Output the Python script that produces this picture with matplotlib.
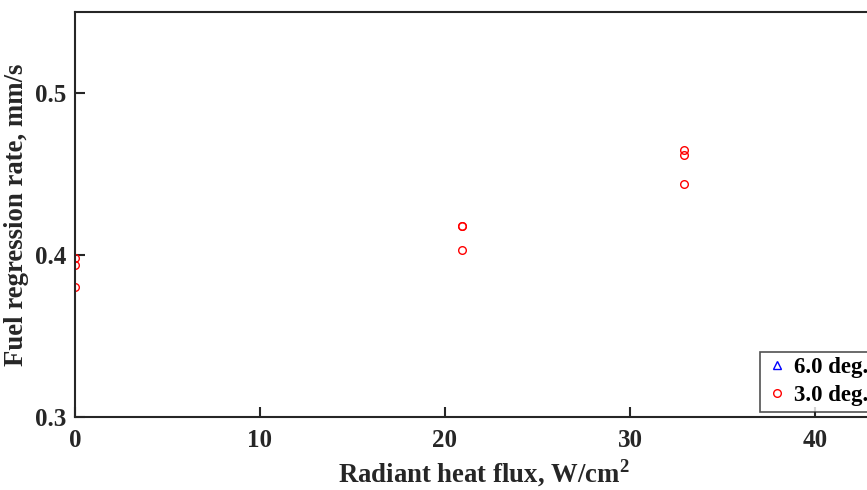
import matplotlib
matplotlib.use("Agg")
import matplotlib.pyplot as plt

plt.rcParams['font.family'] = 'Liberation Serif'
plt.rcParams['font.weight'] = 'bold'
plt.rcParams['mathtext.fontset'] = 'custom'
plt.rcParams['mathtext.bf'] = 'Liberation Serif:bold'
plt.rcParams['mathtext.rm'] = 'Liberation Serif:bold'

# 6.0 deg series has no visible points in the chart
flux_6deg = []
rate_6deg = []

flux_3deg = [0.0, 0.0, 0.0, 20.9, 20.9, 20.9, 32.9, 32.9, 32.9]
rate_3deg = [0.398, 0.394, 0.380, 0.418, 0.418, 0.403, 0.465, 0.462, 0.444]

xticks = [0, 10, 20, 30, 40]
yticks = [0.3, 0.4, 0.5]

FS = 18          # axes font
FS_LAB = 19.3    # axis labels
FS_LEG = 16.5    # legend
fig = plt.figure(figsize=(8.67, 4.9), dpi=100)
# axes extend past the right edge like in the cropped original
ax = fig.add_axes([0.0865, 0.149, 1.0467 - 0.0865, 0.9755 - 0.149])

ax.plot(flux_6deg, rate_6deg, '^', color='blue', mfc='none', ms=6, mew=1, label='6.0 deg.')
ax.plot(flux_3deg, rate_3deg, 'o', color='red', mfc='none', ms=5.5, mew=1, label='3.0 deg.')

ax.set_xlim(0, 45)
ax.set_ylim(0.3, 0.55)
ax.set_xticks(xticks)
ax.set_yticks(yticks)
ax.set_xticklabels([str(t) for t in xticks])
ax.set_yticklabels(['%.1f' % t for t in yticks])
ax.tick_params(direction='in', length=7, width=1.5, labelsize=FS, colors='#262626',
               top=False, right=False)
ax.tick_params(axis='x', pad=9)
ax.tick_params(axis='y', pad=6)
for s in ax.spines.values():
    s.set_linewidth(1.5)
    s.set_color('#262626')

ax.set_xlabel(r'Radiant heat flux, W/cm$^{\mathbf{2}}$', fontsize=FS_LAB, fontweight='bold',
              color='#262626')
ax.xaxis.set_label_coords((484 - 75) / 832, -0.1)
ax.xaxis.label.set_va('top')
ax.set_ylabel('Fuel regression rate, mm/s', fontsize=FS_LAB, fontweight='bold',
              color='#262626')
ax.yaxis.set_label_coords(-0.0555, 0.5)

# legend box runs past the right edge, as in the cropped original
leg = ax.legend(loc='lower left', bbox_to_anchor=(760 / 867, 78 / 490, 150 / 867, 56 / 490),
                mode='expand', bbox_transform=fig.transFigure, fontsize=FS_LEG, frameon=True,
                fancybox=False, edgecolor='#262626', handlelength=1.0, handletextpad=0.25,
                borderpad=0.25, labelspacing=0.3, borderaxespad=0)
leg.get_frame().set_linewidth(1.2)

fig.savefig('out.png', dpi=100)
